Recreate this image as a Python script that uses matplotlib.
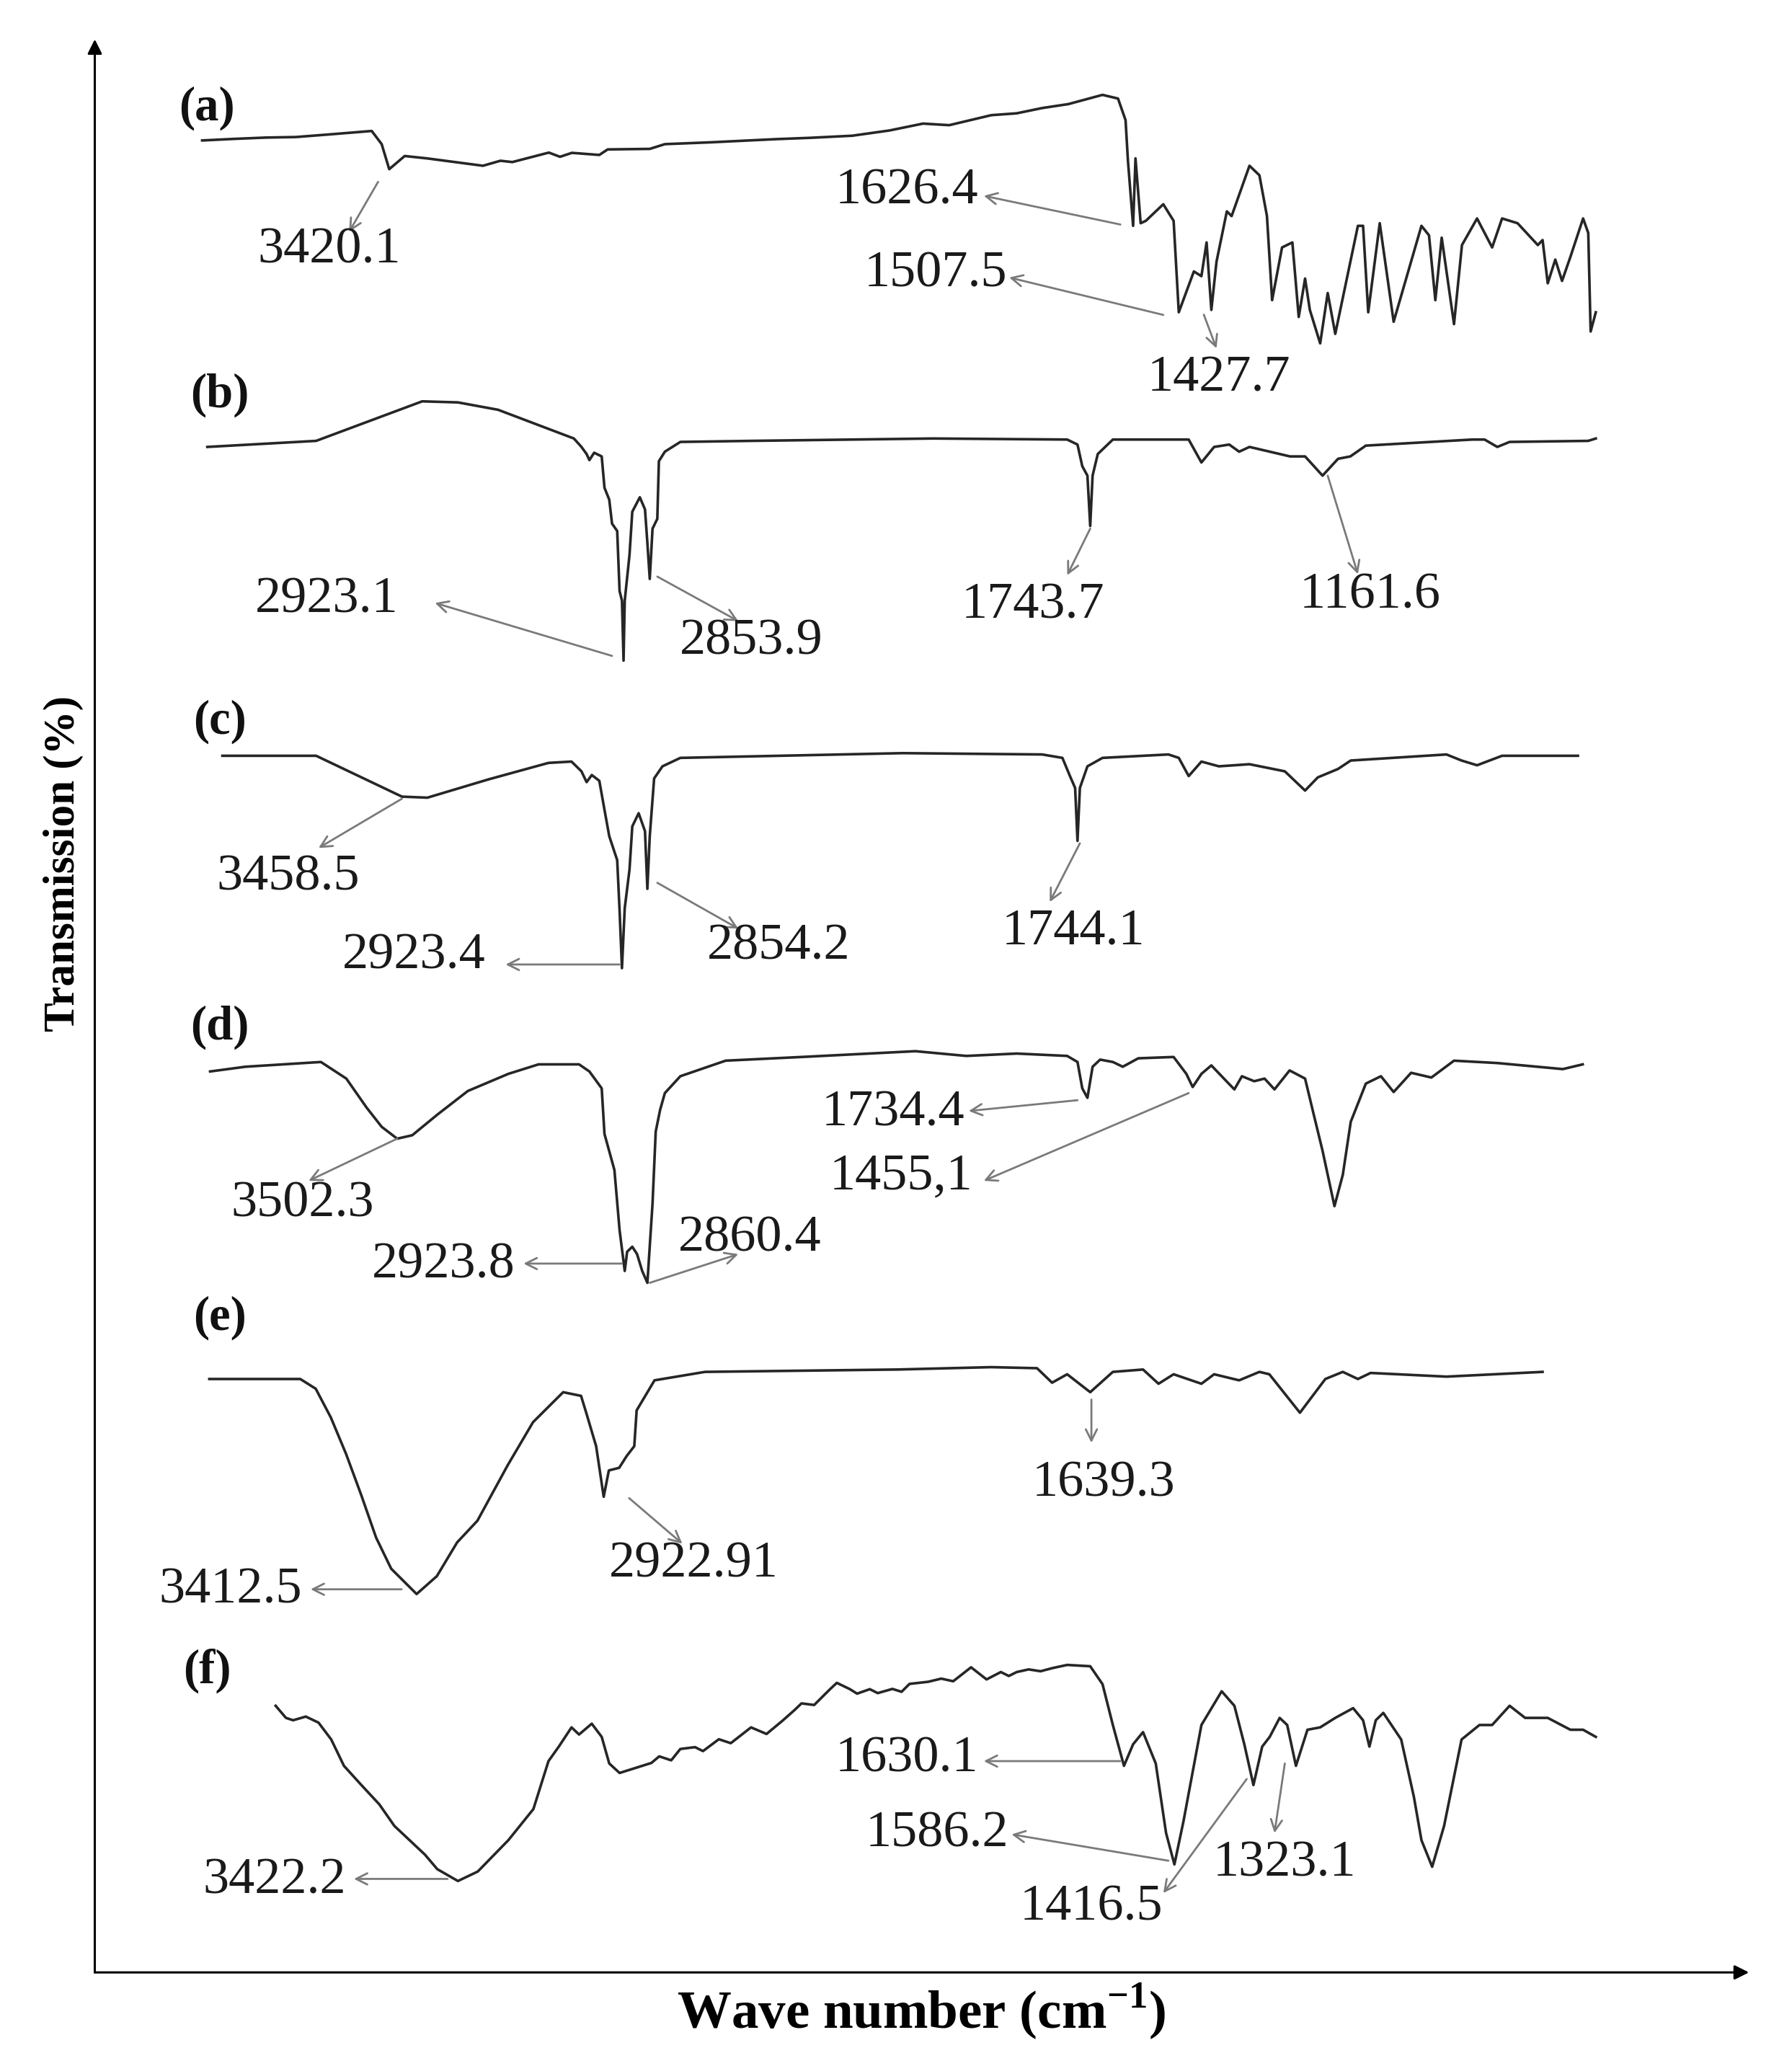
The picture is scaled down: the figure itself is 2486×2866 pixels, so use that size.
import matplotlib.pyplot as plt
import numpy as np

plt.rcParams['font.family'] = ['Liberation Serif', 'DejaVu Serif']
plt.rcParams['mathtext.fontset'] = 'custom'
plt.rcParams['mathtext.rm'] = 'Liberation Serif:bold'
plt.rcParams['mathtext.bf'] = 'Liberation Serif:bold'

# ---- spectra: wavenumber (cm-1) and transmission (%, relative to each panel) ----
wn_a = [3981, 3900, 3820, 3745, 3660, 3554, 3529, 3510, 3471, 3415, 3274, 3230, 3200, 3108,
        3080, 3050, 2981, 2960, 2854, 2816, 2700, 2536, 2450, 2344, 2250, 2166, 2100, 1994,
        1930, 1866, 1800, 1714, 1675, 1656, 1650, 1637, 1631, 1618, 1605, 1561, 1535, 1522,
        1484, 1465, 1452, 1440, 1427, 1401, 1389, 1344, 1319, 1300, 1287, 1262, 1236, 1220,
        1204, 1192, 1166, 1147, 1128, 1071, 1058, 1045, 1016, 981, 911, 892, 876, 860, 829,
        809, 771, 733, 708, 669, 618, 606, 593, 574, 557, 536, 504, 491, 485, 472]
t_a = [79.2, 79.8, 80.3, 80.5, 81.5, 82.8, 77.8, 68.3, 73.3, 72.4, 69.6, 71.5, 71.0, 74.6,
       73.0, 74.5, 73.7, 75.8, 76.0, 77.8, 78.5, 79.7, 80.2, 81.0, 83.0, 85.6, 85.0, 88.8,
       89.5, 91.5, 93.0, 96.5, 95.1, 86.9, 71.5, 46.8, 72.4, 47.8, 48.7, 55.0, 48.7, 14.0,
       29.5, 27.7, 40.5, 14.9, 33.2, 52.3, 50.5, 69.6, 66.0, 50.5, 18.6, 38.6, 40.5, 12.2,
       26.8, 14.9, 2.2, 21.3, 5.8, 46.8, 46.8, 14.0, 47.8, 10.4, 46.8, 43.2, 18.6, 42.3, 9.5,
       39.5, 49.6, 38.6, 49.6, 47.8, 39.5, 41.4, 25.0, 34.0, 25.9, 35.0, 49.6, 44.1, 6.7, 14.0]

wn_b = [3968, 3694, 3427, 3337, 3236, 3045, 3026, 3013, 3006, 2994, 2975, 2968, 2956, 2949,
        2936, 2930, 2924, 2920, 2917, 2905, 2898, 2879, 2866, 2860, 2854, 2847, 2835, 2831,
        2816, 2777, 2599, 2141, 1803, 1777, 1765, 1752, 1745, 1739, 1726, 1688, 1497, 1465,
        1433, 1395, 1370, 1344, 1242, 1204, 1160, 1121, 1090, 1051, 783, 752, 720, 689, 491, 472]
t_b = [82.9, 85.2, 100.2, 99.8, 97.0, 86.1, 82.9, 80.2, 77.9, 80.7, 79.3, 67.4, 62.9, 53.8,
       51.0, 28.2, 24.6, 1.8, 24.6, 41.9, 58.3, 63.8, 59.2, 46.5, 32.8, 51.9, 55.6, 77.5,
       81.1, 84.8, 85.2, 86.1, 85.7, 83.8, 75.6, 72.0, 52.9, 72.0, 80.2, 85.7, 85.7, 77.0,
       82.9, 83.8, 81.1, 82.9, 79.3, 79.3, 72.0, 78.4, 79.3, 83.4, 85.7, 85.7, 82.9, 84.8, 85.2, 86.1]

wn_c = [3930, 3694, 3478, 3414, 3261, 3109, 3051, 3026, 3013, 3000, 2981, 2968, 2956, 2936,
        2930, 2924, 2917, 2905, 2898, 2882, 2866, 2860, 2854, 2843, 2822, 2777, 2217, 1866,
        1815, 1796, 1783, 1777, 1771, 1752, 1714, 1548, 1522, 1497, 1465, 1421, 1344, 1255,
        1204, 1172, 1121, 1089, 848, 810, 771, 708, 517]
t_c = [83.2, 83.2, 67.7, 67.3, 74.2, 80.5, 81.0, 77.3, 73.2, 75.9, 73.7, 62.7, 52.7, 43.6,
       24.5, 2.6, 25.4, 40.0, 56.4, 61.4, 54.6, 32.7, 52.7, 74.6, 79.2, 82.4, 84.2, 83.7,
       82.4, 75.5, 71.0, 50.9, 71.0, 79.2, 82.4, 83.7, 82.4, 75.5, 81.0, 79.2, 80.0, 77.3,
       70.0, 75.0, 78.2, 81.4, 83.7, 81.4, 79.6, 83.2, 83.2]

wn_d = [3961, 3872, 3682, 3618, 3567, 3529, 3490, 3452, 3389, 3312, 3210, 3134, 3032, 3006,
        2975, 2968, 2943, 2930, 2917, 2911, 2898, 2886, 2873, 2860, 2847, 2839, 2828, 2816,
        2777, 2663, 2472, 2185, 2057, 1930, 1803, 1777, 1765, 1752, 1739, 1720, 1688, 1663,
        1624, 1535, 1503, 1487, 1465, 1440, 1402, 1382, 1363, 1332, 1306, 1281, 1243, 1204,
        1185, 1160, 1130, 1109, 1089, 1051, 1013, 981, 937, 886, 829, 720, 555, 505]
t_d = [83.4, 85.2, 87.0, 80.7, 69.7, 62.4, 57.9, 59.2, 67.0, 76.0, 82.5, 86.1, 86.1, 83.4,
       77.0, 59.7, 46.0, 23.2, 7.7, 15.0, 16.9, 14.1, 7.7, 3.2, 33.3, 60.6, 68.8, 75.2,
       81.6, 87.5, 88.9, 91.1, 89.3, 90.2, 89.3, 87.0, 77.0, 73.4, 85.2, 87.9, 87.0, 85.2,
       88.4, 88.9, 82.5, 77.5, 82.5, 85.7, 79.7, 76.6, 81.6, 79.7, 80.7, 76.6, 83.8, 80.7,
       68.8, 53.3, 32.3, 44.2, 64.3, 78.8, 81.6, 75.6, 82.9, 81.1, 87.5, 86.6, 84.3, 86.1]

wn_e = [3963, 3734, 3695, 3657, 3619, 3581, 3543, 3505, 3441, 3390, 3339, 3288, 3212, 3148,
        3072, 3027, 3014, 2989, 2970, 2957, 2931, 2912, 2893, 2887, 2842, 2715, 2231, 1994,
        1879, 1841, 1803, 1745, 1688, 1612, 1573, 1535, 1465, 1433, 1370, 1319, 1294, 1217,
        1153, 1109, 1071, 1039, 848, 606]
t_e = [84.2, 84.2, 80.5, 69.6, 55.9, 40.4, 24.0, 12.2, 2.6, 9.4, 22.2, 30.4, 51.4, 67.8,
       79.2, 77.8, 71.4, 58.7, 39.5, 49.5, 50.5, 55.0, 58.7, 72.3, 83.7, 86.9, 87.8, 88.7,
       88.3, 82.8, 86.0, 79.2, 86.9, 87.8, 82.4, 86.0, 82.4, 86.0, 83.7, 86.9, 86.0, 71.4,
       84.2, 86.9, 84.2, 86.5, 85.1, 86.9]

wn_f = [3796, 3770, 3752, 3720, 3688, 3656, 3624, 3580, 3535, 3497, 3420, 3389, 3337, 3287,
        3210, 3147, 3109, 3083, 3051, 3032, 3000, 2975, 2956, 2930, 2892, 2850, 2830, 2800,
        2777, 2740, 2720, 2680, 2650, 2599, 2560, 2520, 2490, 2472, 2440, 2400, 2383, 2350,
        2332, 2300, 2280, 2243, 2220, 2200, 2153, 2120, 2090, 2045, 2006, 1970, 1950, 1930,
        1900, 1870, 1840, 1803, 1745, 1714, 1688, 1660, 1637, 1612, 1580, 1554, 1533, 1510,
        1465, 1414, 1382, 1357, 1334, 1312, 1293, 1268, 1249, 1227, 1198, 1166, 1128, 1083,
        1058, 1042, 1026, 1007, 962, 930, 911, 884, 854, 810, 765, 733, 689, 650, 593, 536,
        504, 472]
t_f = [72.7, 68.1, 67.2, 68.6, 66.3, 59.9, 49.9, 42.6, 35.3, 27.1, 16.2, 10.7, 6.2, 9.8,
       21.7, 33.5, 51.7, 57.2, 64.5, 61.8, 65.9, 60.9, 50.8, 47.2, 49.0, 51.0, 53.5, 52.0,
       56.3, 57.0, 55.5, 60.0, 58.5, 64.5, 62.0, 67.0, 71.0, 73.6, 73.0, 79.0, 81.4, 79.0,
       77.3, 79.0, 77.5, 79.1, 78.0, 81.0, 81.8, 83.0, 82.0, 87.3, 82.7, 85.5, 84.0, 85.5,
       86.5, 85.8, 87.0, 88.2, 87.7, 80.9, 65.4, 49.9, 58.1, 62.7, 50.8, 24.4, 12.5, 29.0,
       65.4, 78.2, 72.7, 58.1, 42.6, 57.2, 60.9, 68.1, 65.4, 49.9, 63.6, 64.5, 68.1, 71.8,
       67.2, 57.2, 67.2, 70.0, 59.9, 38.1, 21.7, 11.6, 27.1, 59.9, 65.4, 65.4, 72.7, 68.1,
       68.1, 63.6, 63.6, 60.9]

spectra = [(wn_a, t_a), (wn_b, t_b), (wn_c, t_c), (wn_d, t_d), (wn_e, t_e), (wn_f, t_f)]
panel_tags = ['(a)', '(b)', '(c)', '(d)', '(e)', '(f)']

# peak labels: text, (peak wn, T), (arrow head wn, T), (label wn, T)
labels_a = [('3420.1', (3538, 63.5), (3611, 44.5), (3661, 37.5)),
            ('1626.4', (1669, 47.3), (2013, 58.2), (2207, 60.0)),
            ('1507.5', (1561, 13.0), (1949, 27.2), (2135, 28.5)),
            ('1427.7', (1459, 13.1), (1427, 0.3), (1421, -11.0))]
labels_b = [('2923.1', (2949, 3.6), (3395, 23.7), (3667, 25.0)),
            ('2853.9', (2835, 33.7), (2631, 16.8), (2599, 9.0)),
            ('1743.7', (1745, 51.9), (1803, 34.2), (1889, 22.8)),
            ('1161.6', (1147, 72.0), (1071, 34.6), (1040, 26.5))]
labels_c = [('3458.5', (3478, 66.9), (3688, 48.2), (3764, 37.2)),
            ('2923.4', (2930, 4.0), (3217, 4.0), (3447, 7.2)),
            ('2854.2', (2835, 35.0), (2631, 17.6), (2529, 10.8)),
            ('1744.1', (1771, 50.0), (1847, 27.7), (1787, 16.7))]
labels_d = [('3502.3', (3490, 57.9), (3713, 41.9), (3729, 33.3)),
            ('2923.8', (2924, 10.5), (3172, 10.5), (3373, 10.0)),
            ('2860.4', (2854, 3.2), (2631, 14.1), (2602, 20.0)),
            ('1734.4', (1777, 72.5), (2051, 68.4), (2242, 67.5)),
            ('1455,1', (1497, 75.2), (2013, 41.9), (2221, 43.5))]
labels_e = [('3412.5', (3479, 4.4), (3708, 4.4), (3909, 4.0)),
            ('2922.91', (2906, 39.0), (2772, 21.7), (2744, 14.0)),
            ('1639.3', (1742, 76.4), (1742, 60.0), (1711, 44.5))]
labels_f = [('3422.2', (3363, 7.0), (3599, 7.0), (3799, 6.2)),
            ('1630.1', (1669, 51.7), (2013, 51.7), (2206, 52.5)),
            ('1586.2', (1548, 13.9), (1943, 23.9), (2130, 24.0)),
            ('1416.5', (1351, 44.9), (1561, 1.6), (1742, -3.9)),
            ('1323.1', (1255, 50.8), (1281, 24.4), (1255, 13.0))]
all_labels = [labels_a, labels_b, labels_c, labels_d, labels_e, labels_f]

# layout: vertical position of T=0 for each panel and its height per % (in figure px / 1568)
panel_base = [265, 505, 740, 980, 1215, 1440]
tag_pos = [(3969, 91.5), (3936, 102.5), (3936, 96.0), (3936, 100.0), (3936, 107.5), (3969, 86.0)]
px_per_t = 2.0

fig = plt.figure(figsize=(24.86, 28.66), dpi=100)
ax = fig.add_axes([0, 0, 1, 1])
ax.set_xlim(4490, -22)
ax.set_ylim(1568, 0)
ax.axis('off')


def ypos(i, t):
    return panel_base[i] - px_per_t * np.asarray(t)


arrow_kw = dict(arrowstyle='->', color='#7a7a7a', lw=2.0, mutation_scale=28,
                shrinkA=0, shrinkB=0)

for i, (wn, t) in enumerate(spectra):
    ax.plot(wn, ypos(i, t), color='#262626', lw=2.6, solid_joinstyle='round')
    tx, tt = tag_pos[i]
    ax.text(tx, ypos(i, tt), panel_tags[i], fontsize=48, fontweight='bold',
            ha='center', va='center', color='#111111')
    for txt, peak, head, lab in all_labels[i]:
        ax.annotate('', xy=(head[0], ypos(i, head[1])), xytext=(peak[0], ypos(i, peak[1])),
                    arrowprops=arrow_kw)
        ax.text(lab[0], ypos(i, lab[1]), txt, fontsize=52, ha='center', va='center',
                color='#1a1a1a')

# axes drawn as arrows
ax.annotate('', xy=(0.0529, 0.981), xytext=(0.0529, 0.0453), xycoords='axes fraction',
            arrowprops=dict(arrowstyle='-|>', color='black', lw=2.2, mutation_scale=30,
                            shrinkA=0, shrinkB=0))
ax.annotate('', xy=(0.976, 0.0453), xytext=(0.0529, 0.0453), xycoords='axes fraction',
            arrowprops=dict(arrowstyle='-|>', color='black', lw=2.2, mutation_scale=30,
                            shrinkA=0, shrinkB=0))

ax.text(0.0353, 0.582, 'Transmission (%)', rotation=90, transform=ax.transAxes,
        fontsize=44, fontweight='bold', ha='center', va='center')
ax.text(0.514, 0.026, r'Wave number (cm$^{\mathbf{-1}}$)', transform=ax.transAxes,
        fontsize=54, fontweight='bold', ha='center', va='center')

fig.savefig('out.png', dpi=100, facecolor='white')
